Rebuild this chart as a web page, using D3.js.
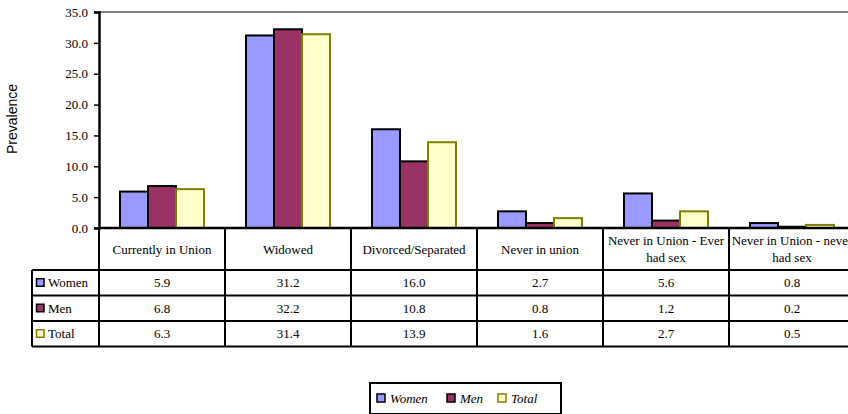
<!DOCTYPE html>
<html>
<head>
<meta charset="utf-8">
<script src="https://cdn.jsdelivr.net/npm/d3@7"></script>
<style>
  html, body { margin: 0; padding: 0; background: #fff; }
  svg { display: block; }
  svg text { font-family: "Liberation Serif", "Times New Roman", Times, "DejaVu Serif", serif; font-size: 13px; fill: #000; }
  svg text.sans { font-family: "Liberation Sans", Arial, sans-serif; font-size: 14px; }
</style>
</head>
<body>
<svg id="chart" width="848" height="414"></svg>
<script>
// Prevalence by marital status
const categories = [
  "Currently in Union",
  "Widowed",
  "Divorced/Separated",
  "Never in union",
  "Never in Union - Ever had sex",
  "Never in Union - never had sex"
];
const seriesNames = ["Women", "Men", "Total"];
const women = [5.9, 31.2, 16.0, 2.7, 5.6, 0.8];
const men   = [6.8, 32.2, 10.8, 0.8, 1.2, 0.2];
const total = [6.3, 31.4, 13.9, 1.6, 2.7, 0.5];
const yTicks = [0, 5, 10, 15, 20, 25, 30, 35];

const seriesValues = [women, men, total];
const fills   = ["#9999FF", "#993366", "#FFFFCC"];
const strokes = ["#000000", "#000000", "#808000"];
const serif = "'Liberation Serif', 'Times New Roman', Times, 'DejaVu Serif', serif";

const svg = d3.select("#chart");

const plotLeft = 99, plotTop = 12, plotBottom = 228;
const colWidth = 126;

// Category columns (shared by the bars and the data table)
const x0 = d3.scaleBand()
  .domain(categories)
  .range([plotLeft, plotLeft + colWidth * categories.length])
  .padding(0);

// Bars inside each column, 150% gap width
const x1 = d3.scaleBand()
  .domain(seriesNames)
  .range([0, x0.bandwidth()])
  .paddingInner(0)
  .paddingOuter(0.75);

const y = d3.scaleLinear().domain([0, 35]).range([plotBottom, plotTop]);

// Top border of the plot area
svg.append("line")
  .attr("x1", plotLeft).attr("x2", 848)
  .attr("y1", y(35)).attr("y2", y(35))
  .attr("stroke", "#808080").attr("stroke-width", 2);

// Bars
const groups = svg.append("g").selectAll("g")
  .data(categories)
  .join("g")
  .attr("transform", d => `translate(${x0(d)},0)`);

groups.selectAll("rect")
  .data((c, ci) => seriesNames.map((s, si) => ({ s, si, v: seriesValues[si][ci] })))
  .join("rect")
  .attr("x", d => x1(d.s))
  .attr("y", d => y(d.v))
  .attr("width", x1.bandwidth())
  .attr("height", d => y(0) - y(d.v))
  .attr("fill", d => fills[d.si])
  .attr("stroke", d => strokes[d.si])
  .attr("stroke-width", 2);

// Y axis
const yAxis = d3.axisLeft(y)
  .tickValues(yTicks)
  .tickFormat(d3.format(".1f"))
  .tickSize(5)
  .tickPadding(6);
const yg = svg.append("g")
  .attr("transform", `translate(${plotLeft},0)`)
  .call(yAxis)
  .attr("font-family", serif)
  .attr("font-size", 13);
yg.select(".domain").attr("stroke", "#000").attr("stroke-width", 2.5);
yg.selectAll(".tick line").attr("stroke", "#000").attr("stroke-width", 1.5);
yg.selectAll(".tick text").attr("fill", "#000");

// Y axis title
svg.append("text")
  .attr("class", "sans")
  .attr("transform", "translate(17,119) rotate(-90)")
  .attr("text-anchor", "middle")
  .text("Prevalence");

// Data table
const tableLeft = 32;
const rowTops = [228, 270, 295.5, 321, 346.5];
const rightEdge = plotLeft + colWidth * categories.length;
const tbl = svg.append("g");

// Category axis line / table top
tbl.append("line")
  .attr("x1", plotLeft).attr("x2", rightEdge)
  .attr("y1", rowTops[0]).attr("y2", rowTops[0])
  .attr("stroke", "#000").attr("stroke-width", 2.5);

// Row separators
tbl.selectAll("line.row")
  .data(rowTops.slice(1))
  .join("line")
  .attr("class", "row")
  .attr("x1", tableLeft).attr("x2", rightEdge)
  .attr("y1", d => d).attr("y2", d => d)
  .attr("stroke", "#000").attr("stroke-width", 2);

// Column separators
tbl.selectAll("line.col")
  .data(categories.map(c => x0(c)).concat([rightEdge]))
  .join("line")
  .attr("class", "col")
  .attr("x1", d => d).attr("x2", d => d)
  .attr("y1", rowTops[0]).attr("y2", rowTops[4])
  .attr("stroke", "#000").attr("stroke-width", 2);

tbl.append("line")
  .attr("x1", tableLeft).attr("x2", tableLeft)
  .attr("y1", rowTops[1]).attr("y2", rowTops[4])
  .attr("stroke", "#000").attr("stroke-width", 2);

// Header labels, wrapped to the column width
function wrapWords(label, maxW) {
  const probe = svg.append("text").attr("visibility", "hidden");
  const words = label.split(" ");
  const lines = [];
  let cur = [];
  words.forEach(w => {
    const trial = cur.concat([w]).join(" ");
    probe.text(trial);
    if (cur.length && probe.node().getComputedTextLength() > maxW) {
      lines.push(cur.join(" "));
      cur = [w];
    } else {
      cur.push(w);
    }
  });
  if (cur.length) lines.push(cur.join(" "));
  probe.remove();
  return lines;
}

const headerMid = (rowTops[0] + rowTops[1]) / 2;
const lineH = 17;
categories.forEach(c => {
  const lines = wrapWords(c, colWidth - 2);
  const t = tbl.append("text")
    .attr("text-anchor", "middle")
    .attr("x", x0(c) + colWidth / 2);
  lines.forEach((ln, i) => {
    t.append("tspan")
      .attr("x", x0(c) + colWidth / 2)
      .attr("y", headerMid + (i - (lines.length - 1) / 2) * lineH)
      .attr("dy", "0.35em")
      .text(ln);
  });
});

// Value rows with legend keys
seriesNames.forEach((s, si) => {
  const mid = (rowTops[si + 1] + rowTops[si + 2]) / 2;
  tbl.append("rect")
    .attr("x", 36.5).attr("y", mid - 4)
    .attr("width", 7.5).attr("height", 7.5)
    .attr("fill", fills[si])
    .attr("stroke", strokes[si]).attr("stroke-width", 1.5);
  tbl.append("text")
    .attr("x", 48).attr("y", mid).attr("dy", "0.35em")
    .text(s);
  categories.forEach((c, ci) => {
    tbl.append("text")
      .attr("text-anchor", "middle")
      .attr("x", x0(c) + colWidth / 2)
      .attr("y", mid).attr("dy", "0.35em")
      .text(d3.format(".1f")(seriesValues[si][ci]));
  });
});

// Legend
const legend = svg.append("g").attr("transform", "translate(370,383)");
legend.append("rect")
  .attr("x", 0).attr("y", 0).attr("width", 191).attr("height", 31)
  .attr("fill", "#fff").attr("stroke", "#000").attr("stroke-width", 2);
const keyX = [7, 77, 128];
seriesNames.forEach((s, si) => {
  legend.append("rect")
    .attr("x", keyX[si]).attr("y", 11)
    .attr("width", 8).attr("height", 8)
    .attr("fill", fills[si])
    .attr("stroke", strokes[si]).attr("stroke-width", 1.5);
  legend.append("text")
    .attr("x", keyX[si] + 13).attr("y", 15).attr("dy", "0.35em")
    .style("font-style", "italic")
    .text(s);
});
</script>
</body>
</html>
